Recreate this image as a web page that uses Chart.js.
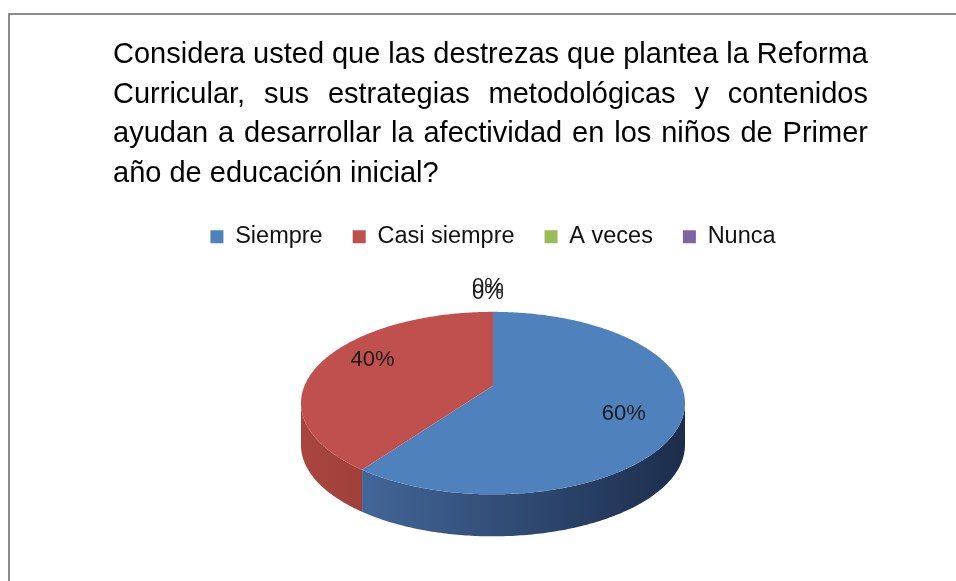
<!DOCTYPE html>
<html>
<head>
<meta charset="utf-8">
<script src="https://cdn.jsdelivr.net/npm/chart.js@4.4.1/dist/chart.umd.min.js"></script>
<style>
    html, body { margin: 0; padding: 0; background: #fff; }
    #wrap { width: 956px; height: 581px; }
</style>
</head>
<body>
<div id="wrap"><canvas id="myChart" width="956" height="581"></canvas></div>
<script>
// datos del gráfico
const titleLines = [
    'Considera usted que las destrezas que plantea la Reforma',
    'Curricular, sus estrategias metodológicas y contenidos',
    'ayudan a desarrollar la afectividad en los niños de Primer',
    'año de educación inicial?'
];
const categories = ['Siempre', 'Casi siempre', 'A veces', 'Nunca'];
const percentValues = [60, 40, 0, 0];

// colores (cara superior y lado de cada porción)
const sliceColors = ['#4F81BD', '#C0504D', '#9BBB59', '#8064A2'];
const sideColors = [
    ['#4a71a7', '#1c2d4b'],
    ['#a9453f', '#6e2826'],
    ['#7d9a45', '#4a5c28'],
    ['#67508a', '#3b2e52']
];

const FONT = "'Liberation Sans', Arial, sans-serif";
const TILT = 0.4666;   // inclinación de la tarta
const PERSP = 0.19;    // fuerza de la perspectiva
const DEPTH = 42;      // grosor del disco

// proyecta un punto del disco (ángulo t, fracción f del radio) a la pantalla
function project(el, t, f, dy, stretch) {
    const X = f * Math.cos(t);
    const Z = f * Math.sin(t);
    const w = 1 - PERSP * Z;
    return {
        x: el.x + el.outerRadius * X / w,
        y: el.y - DEPTH / 2 + el.outerRadius * TILT * (stretch || 1) * Z / w + dy
    };
}

function topFacePath(ctx, el) {
    const span = el.endAngle - el.startAngle;
    const steps = Math.max(2, Math.ceil(span * 80));
    const c = project(el, 0, 0, 0);
    ctx.beginPath();
    ctx.moveTo(c.x, c.y);
    for (let i = 0; i <= steps; i++) {
        const p = project(el, el.startAngle + span * i / steps, 1, 0);
        ctx.lineTo(p.x, p.y);
    }
    ctx.closePath();
}

// pared frontal visible de la porción
function sidePath(ctx, el) {
    const a = Math.asin(PERSP);
    const t0 = Math.max(el.startAngle, a);
    const t1 = Math.min(el.endAngle, Math.PI - a);
    if (t1 <= t0) return false;
    const steps = Math.max(2, Math.ceil((t1 - t0) * 80));
    ctx.beginPath();
    for (let i = 0; i <= steps; i++) {
        const p = project(el, t0 + (t1 - t0) * i / steps, 1, 0);
        i === 0 ? ctx.moveTo(p.x, p.y) : ctx.lineTo(p.x, p.y);
    }
    for (let i = steps; i >= 0; i--) {
        const p = project(el, t0 + (t1 - t0) * i / steps, 1, DEPTH);
        ctx.lineTo(p.x, p.y);
    }
    ctx.closePath();
    return true;
}

function drawJustified(ctx, text, left, right, y, justify) {
    if (!justify) {
        ctx.fillText(text, left, y);
        return;
    }
    const words = text.split(' ');
    const wordsWidth = words.reduce((sum, w) => sum + ctx.measureText(w).width, 0);
    const gap = (right - left - wordsWidth) / (words.length - 1);
    let x = left;
    words.forEach(w => {
        ctx.fillText(w, x, y);
        x += ctx.measureText(w).width + gap;
    });
}

const pie3dPlugin = {
    id: 'pie3d',
    beforeDraw(chart) {
        const ctx = chart.ctx;
        ctx.save();
        ctx.fillStyle = '#fff';
        ctx.fillRect(0, 0, chart.width, chart.height);
        // marco
        ctx.fillStyle = '#8c8c8c';
        ctx.fillRect(8, 13, chart.width - 8, 2);
        ctx.fillRect(8, 13, 2, chart.height - 13);
        // título justificado
        ctx.fillStyle = '#000';
        ctx.font = '29px ' + FONT;
        ctx.textBaseline = 'middle';
        ctx.textAlign = 'left';
        titleLines.forEach((line, i) => {
            drawJustified(ctx, line, 113, 868, 55 + i * 39.5, i < titleLines.length - 1);
        });
        ctx.restore();
    },
    beforeDatasetsDraw(chart) {
        const ctx = chart.ctx;
        const meta = chart.getDatasetMeta(0);
        const arcs = meta.data;
        const left = arcs[0].x - arcs[0].outerRadius * 1.02;
        const right = arcs[0].x + arcs[0].outerRadius * 1.02;
        ctx.save();
        // paredes
        arcs.forEach((el, i) => {
            if (el.endAngle - el.startAngle <= 0) return;
            if (!sidePath(ctx, el)) return;
            const g = ctx.createLinearGradient(left, 0, right, 0);
            g.addColorStop(0, sideColors[i][0]);
            g.addColorStop(1, sideColors[i][1]);
            ctx.fillStyle = g;
            ctx.fill();
        });
        // caras superiores
        arcs.forEach((el, i) => {
            if (el.endAngle - el.startAngle <= 0) return;
            topFacePath(ctx, el);
            ctx.fillStyle = el.options.backgroundColor;
            ctx.fill();
        });
        // etiquetas de datos
        const total = percentValues.reduce((a, b) => a + b, 0);
        ctx.font = '22px ' + FONT;
        ctx.fillStyle = '#1a1a1a';
        ctx.textAlign = 'center';
        ctx.textBaseline = 'middle';
        let zeroCount = 0;
        arcs.forEach((el, i) => {
            const v = percentValues[i];
            const text = Math.round(v / total * 100) + '%';
            const mid = (el.startAngle + el.endAngle) / 2;
            if (v === 0) {
                const p = project(el, mid, 1, 0);
                ctx.fillText(text, p.x - 5, p.y - 25 + zeroCount * 6);
                zeroCount++;
            } else {
                const p = project(el, mid, 0.7, 0, 1.4);
                ctx.fillText(text, p.x, p.y);
            }
        });
        ctx.restore();
        return false;
    }
};

new Chart(document.getElementById('myChart'), {
    type: 'pie',
    data: {
        labels: categories,
        datasets: [{
            data: percentValues,
            backgroundColor: sliceColors,
            borderWidth: 0,
            radius: 188.5,
            clip: false
        }]
    },
    options: {
        responsive: false,
        animation: false,
        layout: { padding: { top: 195, bottom: 26, left: 30, right: 0 } },
        plugins: {
            title: { display: false },
            tooltip: { enabled: false },
            legend: {
                position: 'top',
                labels: {
                    boxWidth: 13,
                    boxHeight: 13,
                    padding: 30,
                    color: '#111',
                    font: { family: FONT, size: 23.5 }
                }
            }
        }
    },
    plugins: [pie3dPlugin]
});
</script>
</body>
</html>
